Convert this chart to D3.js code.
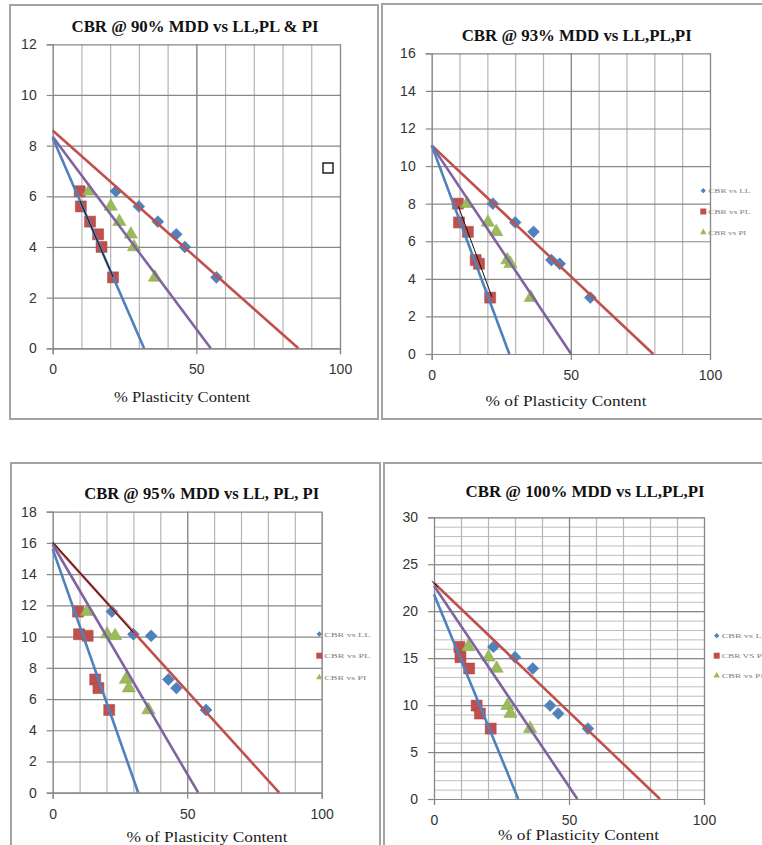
<!DOCTYPE html>
<html lang="en">
<head>
<meta charset="UTF-8">
<title>CBR vs LL, PL, PI</title>
<script src="https://cdnjs.cloudflare.com/ajax/libs/d3/7.8.5/d3.min.js"></script>
<style>
    body {
        margin: 0;
        background-color: #fff;
    }
    svg {
        display: block;
    }
    .tick text {
        font-family: "Liberation Sans", Arial, sans-serif;
        font-size: 14px;
        fill: #333;
    }
    .title {
        font-family: "Liberation Serif", "Times New Roman", serif;
        font-weight: bold;
        font-size: 16px;
        fill: #111;
    }
    .xtitle {
        font-family: "Liberation Serif", "Times New Roman", serif;
        font-size: 14px;
        fill: #1a1a1a;
    }
    .legend text {
        font-family: "Liberation Serif", "Times New Roman", serif;
        font-size: 7px;
        fill: #808080;
    }
</style>
</head>
<body>
<svg id="chart" width="762" height="845"></svg>
<script>
    // % plasticity content of the six samples (same order in every chart)
    var LL = [22, 30, 36.6, 43, 46, 57];
    var PL = [9.4, 9.8, 13, 15.8, 17, 21];
    var PI = [12.7, 20.2, 23.2, 27.2, 28.3, 35.6];

    // CBR values for each compaction level
    var cbr90 = [6.2, 5.6, 5.0, 4.5, 4.0, 2.8];
    var cbr93 = [8.0, 7.0, 6.5, 5.0, 4.8, 3.0];
    var cbr95 = [11.6, 10.15, 10.05, 7.25, 6.7, 5.3];
    var cbr100 = [16.2, 15.1, 13.9, 9.95, 9.1, 7.5];

    // trend lines: [CBR at 0%, % where CBR hits 0] for LL, PL, PI
    var trend90 = [[8.6, 85.5], [8.3, 31.8], [8.35, 55]];
    var trend93 = [[11.1, 79.6], [11.1, 27.9], [11.1, 50.1]];
    var trend95 = [[16.0, 84.2], [15.6, 31.8], [15.9, 54.1]];
    var trend100 = [[23.0, 83.7], [21.8, 31.2], [22.7, 53.1]];

    // thin black segments lying on the trends: [x1, y1, x2, y2]
    var black90 = [9.5, 5.82, 21, 2.82];
    var black93 = [9.6, 7.85, 21.6, 3.05];
    var black95 = [0, 16.05, 30, 10.25];
    var black100 = [-0.8, 23.2, 1.5, 22.6];

    var titles = ["CBR @ 90% MDD vs LL,PL & PI", "CBR @ 93% MDD vs LL,PL,PI",
        "CBR @ 95% MDD vs LL, PL, PI", "CBR @ 100% MDD vs LL,PL,PI"];
    var xTitles = ["% Plasticity Content", "% of Plasticity Content",
        "% of Plasticity Content", "% of Plasticity Content"];
    var legendNames = [["CBR vs LL", "CBR vs PL", "CBR vs PI"],
        ["CBR vs LL", "CBR VS PL", "CBR vs PI"]];

    var blue = "#4f81bd", red = "#c0504d", green = "#9bbb59", purple = "#8064a2";

    // layout of each chart box
    var panels = [
        { cbr: cbr90, trend: trend90, black: black90, yMax: 12, yStep: 2, yMinor: 0,
          box: [10, 5, 368, 414], plot: [52.7, 44.3, 340, 348.3],
          title: [195, 31.5, 247], xt: [182, 402, 136], legend: null, names: null },
        { cbr: cbr93, trend: trend93, black: black93, yMax: 16, yStep: 2, yMinor: 0,
          box: [382, 4, 400, 415], plot: [431.7, 53.3, 710, 354],
          title: [576.7, 40.5, 230], xt: [566, 406, 161], legend: [703.3, 190.7, 20.8, 42], names: legendNames[0] },
        { cbr: cbr95, trend: trend95, black: black95, yMax: 18, yStep: 2, yMinor: 0,
          box: [11, 463, 369, 420], plot: [52.7, 511.7, 321.7, 792.7],
          title: [201.7, 499, 235], xt: [207, 842, 161], legend: [319.3, 634, 21.7, 46], names: legendNames[0] },
        { cbr: cbr100, trend: trend100, black: black100, yMax: 30, yStep: 5, yMinor: 1,
          box: [384, 463, 400, 420], plot: [434, 517.3, 704, 799],
          title: [585, 496.5, 239], xt: [578.5, 840, 161], legend: [716.7, 635.7, 20, 46], names: legendNames[1] }
    ];

    var svg = d3.select("#chart");

    var diamond = d3.symbol().type(d3.symbolSquare).size(70);
    var square = d3.symbol().type(d3.symbolSquare).size(121);
    var triangle = d3.symbol().type(d3.symbolTriangle).size(76);

    panels.forEach(function (p, i) {
        var g = svg.append("g");

        // chart border
        g.append("rect")
            .attr("x", p.box[0]).attr("y", p.box[1])
            .attr("width", p.box[2]).attr("height", p.box[3])
            .attr("fill", "#fff")
            .attr("stroke", "#a3a3a3")
            .attr("stroke-width", 2);

        var x = d3.scaleLinear().domain([0, 100]).range([p.plot[0], p.plot[2]]);
        var y = d3.scaleLinear().domain([0, p.yMax]).range([p.plot[3], p.plot[1]]);
        var w = p.plot[2] - p.plot[0], h = p.plot[3] - p.plot[1];

        // minor gridlines
        if (p.yMinor) {
            g.append("g")
                .attr("transform", "translate(" + p.plot[0] + ",0)")
                .call(d3.axisLeft(y).tickValues(d3.range(0, p.yMax + 0.01, p.yMinor)).tickSize(-w).tickFormat(""))
                .call(function (a) { a.select(".domain").remove(); })
                .selectAll("line").attr("stroke", "#bdbdbd");
        }
        g.append("g")
            .attr("transform", "translate(0," + p.plot[3] + ")")
            .call(d3.axisBottom(x).tickValues(d3.range(0, 101, 10)).tickSize(-h).tickFormat(""))
            .call(function (a) { a.select(".domain").remove(); })
            .selectAll("line").attr("stroke", "#b5b5b5").attr("stroke-width", 1.2);

        // major gridlines
        g.append("g")
            .attr("transform", "translate(" + p.plot[0] + ",0)")
            .call(d3.axisLeft(y).tickValues(d3.range(0, p.yMax + 0.01, p.yStep)).tickSize(-w).tickFormat(""))
            .call(function (a) { a.select(".domain").remove(); })
            .selectAll("line").attr("stroke", "#878787").attr("stroke-width", 1.2);
        g.append("g")
            .attr("transform", "translate(0," + p.plot[3] + ")")
            .call(d3.axisBottom(x).tickValues([50, 100]).tickSize(-h).tickFormat(""))
            .call(function (a) { a.select(".domain").remove(); })
            .selectAll("line").attr("stroke", "#878787").attr("stroke-width", 1.2);

        // axes
        var ya = g.append("g")
            .attr("transform", "translate(" + p.plot[0] + ",0)")
            .call(d3.axisLeft(y).tickValues(d3.range(0, p.yMax + 0.01, p.yStep)).tickSize(6).tickPadding(10));
        var xa = g.append("g")
            .attr("transform", "translate(0," + p.plot[3] + ")")
            .call(d3.axisBottom(x).tickValues([0, 50, 100]).tickSize(6).tickPadding(10));
        [ya, xa].forEach(function (a) {
            a.select(".domain").attr("stroke", "#878787").attr("stroke-width", 1.2);
            a.selectAll(".tick line").attr("stroke", "#878787").attr("stroke-width", 1.2);
        });

        // points
        var pts = g.append("g");
        pts.selectAll(".ll").data(p.cbr).enter().append("path")
            .attr("d", diamond)
            .attr("transform", function (d, j) { return "translate(" + x(LL[j]) + "," + y(d) + ") rotate(45)"; })
            .attr("fill", blue).attr("stroke", "#3f6fa8").attr("stroke-width", 0.5);
        pts.selectAll(".pl").data(p.cbr).enter().append("path")
            .attr("d", square)
            .attr("transform", function (d, j) { return "translate(" + x(PL[j]) + "," + y(d) + ")"; })
            .attr("fill", red).attr("stroke", "#a9413e").attr("stroke-width", 0.5);
        pts.selectAll(".pi").data(p.cbr).enter().append("path")
            .attr("d", triangle)
            .attr("transform", function (d, j) { return "translate(" + x(PI[j]) + "," + y(d) + ")"; })
            .attr("fill", green).attr("stroke", "#86a548").attr("stroke-width", 0.5);

        // trend lines
        var colors = [red, blue, purple];
        [0, 2, 1].forEach(function (k) {
            var t = p.trend[k];
            g.append("line")
                .attr("x1", x(0)).attr("y1", y(t[0]))
                .attr("x2", x(t[1])).attr("y2", y(0))
                .attr("stroke", colors[k])
                .attr("stroke-width", 2.6);
        });
        g.append("line")
            .attr("x1", x(p.black[0])).attr("y1", y(p.black[1]))
            .attr("x2", x(p.black[2])).attr("y2", y(p.black[3]))
            .attr("stroke", "#111").attr("stroke-width", 1);

        // titles
        g.append("text").attr("class", "title")
            .attr("x", p.title[0]).attr("y", p.title[1])
            .attr("text-anchor", "middle")
            .attr("textLength", p.title[2]).attr("lengthAdjust", "spacingAndGlyphs")
            .text(titles[i]);
        g.append("text").attr("class", "xtitle")
            .attr("x", p.xt[0]).attr("y", p.xt[1])
            .attr("text-anchor", "middle")
            .attr("textLength", p.xt[2]).attr("lengthAdjust", "spacingAndGlyphs")
            .text(xTitles[i]);

        // legend
        if (p.legend) {
            var lg = g.append("g").attr("class", "legend");
            var marks = [
                d3.symbol().type(d3.symbolSquare).size(14),
                d3.symbol().type(d3.symbolSquare).size(36),
                d3.symbol().type(d3.symbolTriangle).size(18)
            ];
            var mColors = [blue, red, green];
            p.names.forEach(function (name, k) {
                var yy = p.legend[1] + k * p.legend[2];
                lg.append("path")
                    .attr("d", marks[k])
                    .attr("transform", "translate(" + p.legend[0] + "," + yy + ")" + (k === 0 ? " rotate(45)" : ""))
                    .attr("fill", mColors[k]);
                lg.append("text")
                    .attr("x", p.legend[0] + 5).attr("y", yy + 2.5)
                    .attr("textLength", p.legend[3] - (k === 2 ? 4 : 0))
                    .attr("lengthAdjust", "spacingAndGlyphs")
                    .text(name);
            });
        } else {
            // empty legend box left in the first chart
            g.append("rect")
                .attr("x", 323).attr("y", 163)
                .attr("width", 10).attr("height", 10)
                .attr("fill", "#fff").attr("stroke", "#000").attr("stroke-width", 1.3);
        }
    });
</script>
</body>
</html>
